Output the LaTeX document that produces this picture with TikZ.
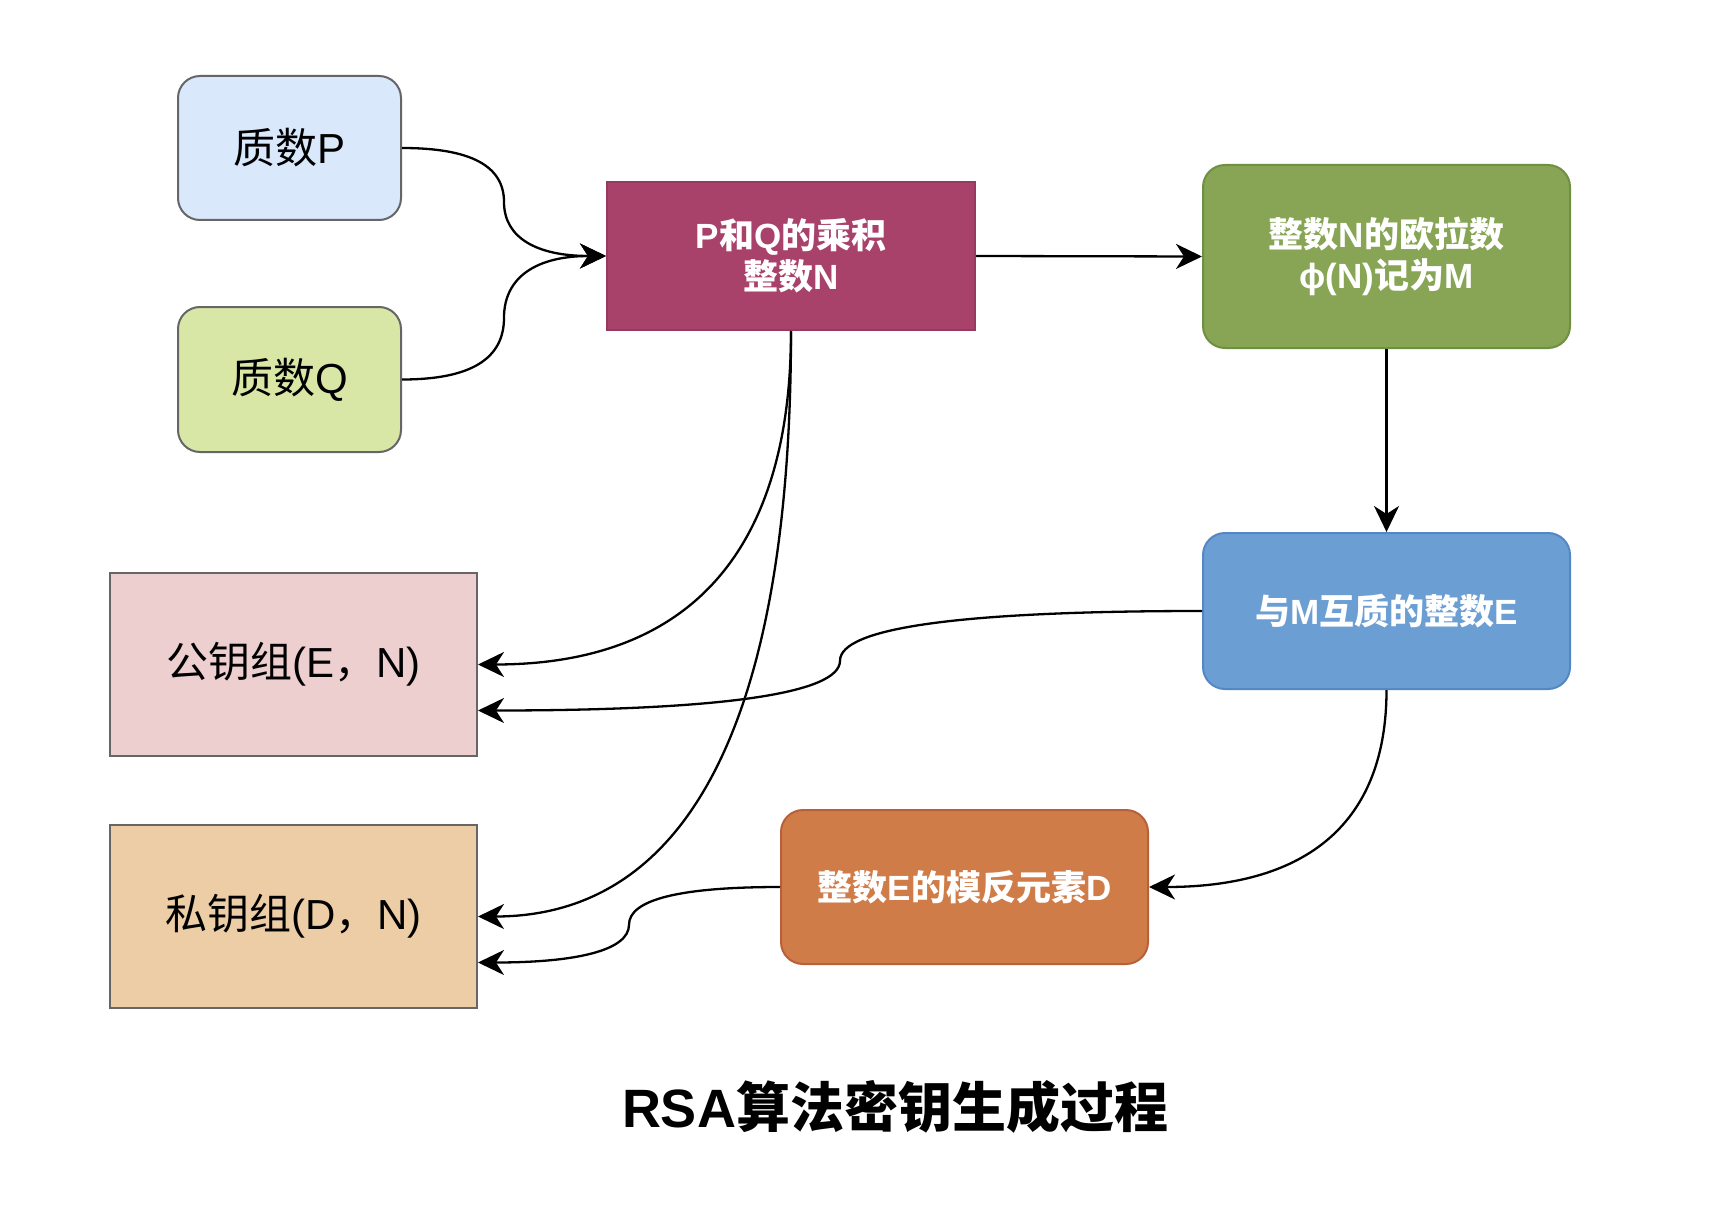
\documentclass[tikz,border=0pt]{standalone}
\usepackage{fontspec}
\setmainfont{Liberation Sans}
\newfontfamily\cjk{Noto Sans CJK SC}
\usetikzlibrary{arrows.meta,calc}
\definecolor{pfill}{HTML}{DAE8FC}
\definecolor{qfill}{HTML}{D9E7A6}
\definecolor{nfill}{HTML}{A8426B}
\definecolor{nline}{HTML}{963A5F}
\definecolor{efill}{HTML}{87A554}
\definecolor{eline}{HTML}{6F8F43}
\definecolor{bfill}{HTML}{6B9FD4}
\definecolor{bline}{HTML}{5587C4}
\definecolor{ofill}{HTML}{D07C49}
\definecolor{oline}{HTML}{B8603A}
\definecolor{pubfill}{HTML}{EECFD0}
\definecolor{privfill}{HTML}{ECCDA6}
\definecolor{boxline}{HTML}{666666}
\tikzset{
  basebox/.style={minimum width=#1, inner sep=0pt, align=center, line width=2pt},
  darkbox/.style={draw=boxline, text=black, font=\fontsize{42}{50}\selectfont},
  lightbox/.style={text=white, font=\fontsize{35}{41}\selectfont\bfseries},
  rbox/.style={rounded corners=22pt},
  conn/.style={line width=2.3pt, -{Stealth[length=26pt,width=25pt,inset=8pt]}}
}
\begin{document}
\begin{tikzpicture}[x=1pt,y=-1pt]
\useasboundingbox (0,0) rectangle (1728,1206);
\fill[white] (0,0) rectangle (1728,1206);

\node[basebox=223pt, minimum height=144pt, darkbox, rbox, fill=pfill] (P) at (289.5,148) {{\cjk 质数}P};
\node[basebox=223pt, minimum height=145pt, darkbox, rbox, fill=qfill] (Q) at (289.5,379.5) {{\cjk 质数}Q};
\node[basebox=368pt, minimum height=148pt, lightbox, fill=nfill, draw=nline] (N) at (791,256) {P{\cjk 和}Q{\cjk 的乘积}\\{\cjk 整数}N};
\node[basebox=367pt, minimum height=183pt, lightbox, rbox, fill=efill, draw=eline] (Eu) at (1386.5,256.5) {{\cjk 整数}N{\cjk 的欧拉数}\\ϕ(N){\cjk 记为}M};
\node[basebox=367pt, minimum height=156pt, lightbox, rbox, fill=bfill, draw=bline] (E) at (1386.5,611) {{\cjk 与}M{\cjk 互质的整数}E};
\node[basebox=367pt, minimum height=154pt, lightbox, rbox, fill=ofill, draw=oline] (D) at (964.5,887) {{\cjk 整数}E{\cjk 的模反元素}D};
\node[basebox=367pt, minimum height=183pt, darkbox, fill=pubfill] (pub) at (293.5,664.5) {{\cjk 公钥组}(E{\cjk ，}N)};
\node[basebox=367pt, minimum height=183pt, darkbox, fill=privfill] (priv) at (293.5,916.5) {{\cjk 私钥组}(D{\cjk ，}N)};
\node[font=\fontsize{54}{60}\selectfont\bfseries] (title) at (895,1107) {RSA{\cjk 算法密钥生成过程}};

\coordinate (pub2) at ($(pub.east)+(0,46)$);
\coordinate (priv2) at ($(priv.east)+(0,46)$);
\coordinate (pm) at ($(P.east)!0.5!(N.west)$);
\coordinate (qm) at ($(Q.east)!0.5!(N.west)$);
\coordinate (em) at ($(E.west)!0.5!(pub2)$);
\coordinate (dm) at ($(D.west)!0.5!(priv2)$);

\draw[conn] (P.east) .. controls +(69,0) and +(0,-36) .. (pm) .. controls +(0,36) and +(-69,0) .. (N.west);
\draw[conn] (Q.east) .. controls +(69,0) and +(0,41) .. (qm) .. controls +(0,-41) and +(-69,0) .. (N.west);
\draw[conn] (N.east) -- (Eu.west);
\draw[conn] (Eu.south) -- (E.north);
\draw[conn] (N.south) .. controls +(0,223) and +(209,0) .. (pub.east);
\draw[conn] (N.south) .. controls +(0,391) and +(209,0) .. (priv.east);
\draw[conn] (E.west) .. controls +(-242,0) and +(0,-33) .. (em) .. controls +(0,33) and +(242,0) .. (pub2);
\draw[conn] (E.south) .. controls +(0,132) and +(159,0) .. (D.east);
\draw[conn] (D.west) .. controls +(-101,0) and +(0,-25) .. (dm) .. controls +(0,25) and +(101,0) .. (priv2);
\end{tikzpicture}
\end{document}
